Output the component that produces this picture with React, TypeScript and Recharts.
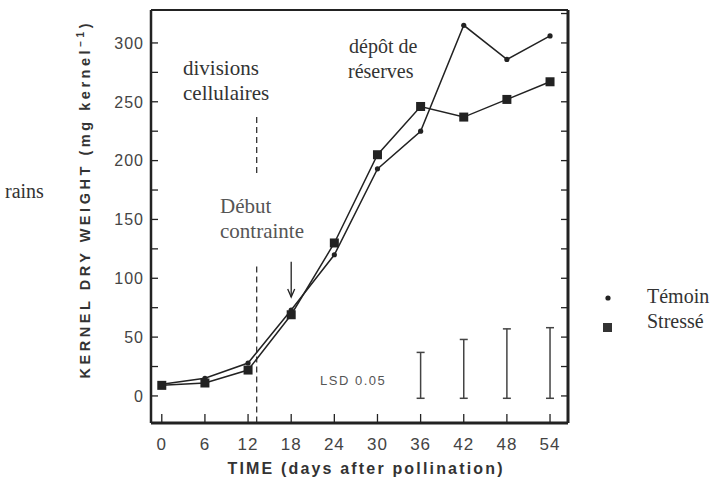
import React from 'react';
import {
    ComposedChart,
    Line,
    Scatter,
    ErrorBar,
    XAxis,
    YAxis,
    ReferenceLine,
    ReferenceDot,
} from 'recharts';

// days after pollination
const days = [0, 6, 12, 18, 24, 30, 36, 42, 48, 54];
const temoin = [10, 15, 28, 73, 120, 193, 225, 315, 286, 306];
const stresse = [9, 11, 22, 69, 130, 205, 246, 237, 252, 267];

// LSD 0.05 bars
const lsdDays = [36, 42, 48, 54];
const lsdTop = [37, 48, 57, 58];
const lsdBase = -2;

const xTicks = [0, 6, 12, 18, 24, 30, 36, 42, 48, 54];
const yTicks = [0, 25, 50, 75, 100, 125, 150, 175, 200, 225, 250, 275, 300];
const yTicksRight = [0, 25, 50, 75, 100, 125, 150, 175, 200, 225, 250, 275, 300, 325];

const X_DOMAIN = [-1.5, 56.5];
const Y_DOMAIN = [-23, 328];

const STRESS_DAY = 13.2;
const ARROW_DAY = 18;

const INK = '#222';
const SANS = '"Liberation Sans", Arial, sans-serif';
const SERIF = '"Liberation Serif", "Times New Roman", serif';

const data = days.map((d, i) => ({ day: d, temoin: temoin[i], stresse: stresse[i] }));
const lsdData = lsdDays.map((d, i) => ({ day: d, base: lsdBase, err: [0, lsdTop[i] - lsdBase] }));

const LeftTick = (props: any) => {
    const { x, y, payload } = props;
    return (
        <g>
            <line x1={x} x2={x + 7} y1={y} y2={y} stroke={INK} strokeWidth={1.3} />
            {payload.value % 50 === 0 && (
                <text x={x - 7} y={y} dy="0.36em" textAnchor="end" fill="#444"
                    fontFamily={SANS} fontSize={16} letterSpacing={1}>
                    {payload.value}
                </text>
            )}
        </g>
    );
};

const RightTick = (props: any) => {
    const { x, y } = props;
    return <line x1={x - 7} x2={x} y1={y} y2={y} stroke={INK} strokeWidth={1.3} />;
};

const BottomTick = (props: any) => {
    const { x, y, payload } = props;
    return (
        <g>
            <line x1={x} x2={x} y1={y} y2={y - 9} stroke={INK} strokeWidth={1.3} />
            <text x={x} y={y + 27} textAnchor="middle" fill="#444"
                fontFamily={SANS} fontSize={17} letterSpacing={1}>
                {payload.value}
            </text>
        </g>
    );
};

const TemoinDot = (props: any) => {
    const { cx, cy } = props;
    return <circle cx={cx} cy={cy} r={2.6} fill={INK} />;
};

const StresseDot = (props: any) => {
    const { cx, cy } = props;
    return <rect x={cx - 4.5} y={cy - 4.5} width={9} height={9} fill={INK} />;
};

const ArrowHead = (props: any) => {
    const { cx, cy } = props;
    return (
        <path d={`M${cx - 3.5},${cy - 8} L${cx},${cy} L${cx + 3.5},${cy - 8}`}
            fill="none" stroke={INK} strokeWidth={1.3} />
    );
};

const textStyle = { fontFamily: SERIF, fill: '#333' };

const App: React.FC = () => {
    return (
        <div style={{ position: 'absolute', left: 0, top: 0, width: 715, height: 481, background: '#fff' }}>
            <ComposedChart width={715} height={481} data={data}
                margin={{ top: 10, right: 146, bottom: 0, left: 0 }}>
                <XAxis dataKey="day" type="number" domain={X_DOMAIN} ticks={xTicks}
                    allowDataOverflow height={58} tickSize={0} tickMargin={0}
                    tick={<BottomTick />} axisLine={{ stroke: INK, strokeWidth: 3 }} />
                <YAxis yAxisId="left" type="number" domain={Y_DOMAIN} ticks={yTicks}
                    allowDataOverflow width={151} tickSize={0} tickMargin={0}
                    tick={<LeftTick />} axisLine={{ stroke: INK, strokeWidth: 2.5 }} />
                <YAxis yAxisId="right" orientation="right" type="number" domain={Y_DOMAIN}
                    ticks={yTicksRight} allowDataOverflow width={1} tickSize={0} tickMargin={0}
                    tick={<RightTick />} axisLine={{ stroke: INK, strokeWidth: 3 }} />
                <ReferenceLine yAxisId="left" y={Y_DOMAIN[1]} stroke={INK} strokeWidth={2} />

                <ReferenceLine yAxisId="left" stroke="#333" strokeWidth={1.3} strokeDasharray="6 4"
                    segment={[{ x: STRESS_DAY, y: 237 }, { x: STRESS_DAY, y: 188 }]} />
                <ReferenceLine yAxisId="left" stroke="#333" strokeWidth={1.3} strokeDasharray="6 4"
                    segment={[{ x: STRESS_DAY, y: 110 }, { x: STRESS_DAY, y: Y_DOMAIN[0] }]} />
                <ReferenceLine yAxisId="left" stroke={INK} strokeWidth={1.3}
                    segment={[{ x: ARROW_DAY, y: 114 }, { x: ARROW_DAY, y: 84 }]} />
                <ReferenceDot yAxisId="left" x={ARROW_DAY} y={84} r={0} shape={<ArrowHead />} />

                <Line yAxisId="left" dataKey="temoin" stroke={INK} strokeWidth={1.5}
                    dot={<TemoinDot />} activeDot={false} isAnimationActive={false} />
                <Line yAxisId="left" dataKey="stresse" stroke={INK} strokeWidth={1.5}
                    dot={<StresseDot />} activeDot={false} isAnimationActive={false} />

                <Scatter yAxisId="left" data={lsdData} dataKey="base" shape={() => <g />}
                    isAnimationActive={false}>
                    <ErrorBar dataKey="err" direction="y" width={4} stroke="#444"
                        strokeWidth={1.5} isAnimationActive={false} />
                </Scatter>
            </ComposedChart>

            <svg width={715} height={481} style={{ position: 'absolute', left: 0, top: 0, pointerEvents: 'none' }}>
                <text x={90} y={201} transform="rotate(-90 90 201)" textAnchor="middle"
                    fontFamily={SANS} fontWeight="bold" fontSize={14.5} fill="#333"
                    textLength={355} lengthAdjust="spacing">
                    KERNEL DRY WEIGHT (mg kernel
                    <tspan dy={-6} fontSize={10}>−1</tspan>
                    <tspan dy={6}>)</tspan>
                </text>
                <text x={365} y={474} textAnchor="middle" fontFamily={SANS} fontWeight="bold"
                    fontSize={16} fill="#333" textLength={275} lengthAdjust="spacing">
                    TIME (days after pollination)
                </text>

                <text x={5} y={198} fontSize={20} {...textStyle}>rains</text>

                <text x={183} y={75} fontSize={21} {...textStyle}>divisions</text>
                <text x={183} y={100} fontSize={21} {...textStyle}>cellulaires</text>
                <text x={349} y={53} fontSize={20} {...textStyle}>dépôt de</text>
                <text x={348} y={78} fontSize={20} {...textStyle}>réserves</text>
                <text x={220} y={213} fontSize={21} {...textStyle} fill="#555">Début</text>
                <text x={220} y={238} fontSize={21} {...textStyle} fill="#555">contrainte</text>

                <text x={320} y={385} fontFamily={SANS} fontSize={13} fill="#555" letterSpacing={1.5}>
                    LSD 0.05
                </text>

                <circle cx={608} cy={298} r={2.6} fill={INK} />
                <text x={647} y={303} fontSize={20} {...textStyle}>Témoin</text>
                <rect x={603} y={323} width={9} height={9} fill="#333" />
                <text x={647} y={328} fontSize={20} {...textStyle}>Stressé</text>
            </svg>
        </div>
    );
};

export default App;
